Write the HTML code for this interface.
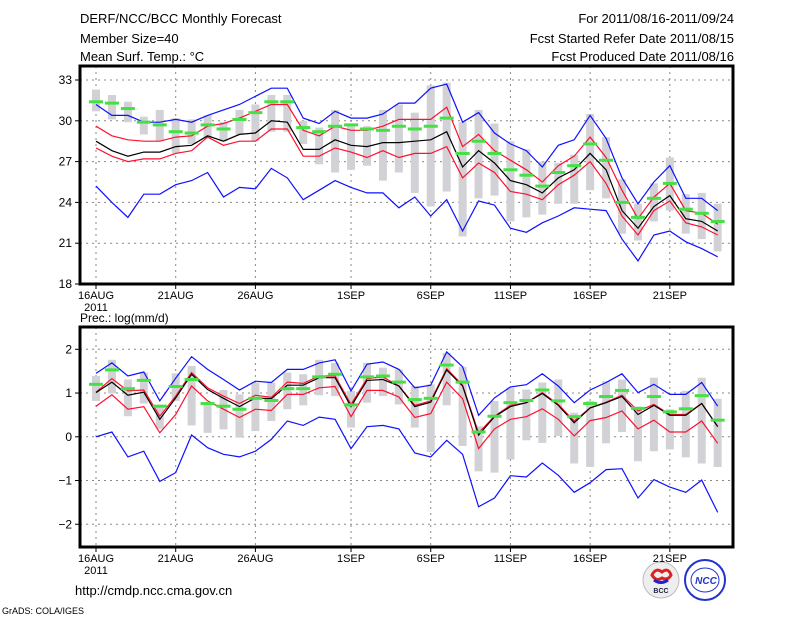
<!DOCTYPE html>
<html><head><meta charset="utf-8"><style>
html,body{margin:0;padding:0;background:#fff;}
svg{display:block;font-family:"Liberation Sans",sans-serif;}
</style></head><body>
<svg id="chart" width="800" height="618" viewBox="0 0 800 618" xmlns="http://www.w3.org/2000/svg">
<text x="80" y="23" font-size="13">DERF/NCC/BCC Monthly Forecast</text>
<text x="80" y="43" font-size="13">Member Size=40</text>
<text x="80" y="61" font-size="13">Mean Surf. Temp.: °C</text>
<text x="734" y="23" font-size="13" text-anchor="end">For 2011/08/16-2011/09/24</text>
<text x="734" y="43" font-size="13" text-anchor="end">Fcst Started Refer Date 2011/08/15</text>
<text x="734" y="61" font-size="13" text-anchor="end">Fcst Produced Date 2011/08/16</text>
<text x="80" y="322" font-size="12">Prec.: log(mm/d)</text>
<text x="75" y="595" font-size="13">http://cmdp.ncc.cma.gov.cn</text>
<text x="2" y="614" font-size="9">GrADS: COLA/IGES</text>
<g>
<circle cx="661" cy="580" r="18" fill="#eee" stroke="#bbb"/>
<path d="M652 575 q4 -8 10 -3 q6 -5 9 3 q-3 6 -9 3 q-6 4 -10 -3z" fill="none" stroke="#d22" stroke-width="3"/>
<path d="M654 580 q7 5 14 0" fill="none" stroke="#22c" stroke-width="3"/>
<text x="661" y="593" font-size="7" font-weight="bold" fill="#224" text-anchor="middle">BCC</text>
</g>
<g>
<circle cx="705" cy="580" r="20" fill="#fff" stroke="#23c" stroke-width="2"/>
<ellipse cx="705" cy="580" rx="14" ry="12" fill="none" stroke="#23c"/>
<text x="706" y="584" font-size="10" font-style="italic" font-weight="bold" fill="#23c" text-anchor="middle">NCC</text>
</g>
<g id="top"></g>
<g id="bot"></g>
</svg>
<script>
const dayLabels=["16AUG","21AUG","26AUG","1SEP","6SEP","11SEP","16SEP","21SEP"];
const dayLabelIdx=[0,5,10,16,21,26,31,36];
const tTicks=[18,21,24,27,30,33];
const pTicks=[-2,-1,0,1,2];
const tMax=[31.2,30.4,30.4,29.9,29.9,30.1,29.9,30.4,30.8,31.2,31.8,32.4,32.4,30.2,29.8,30.7,30.2,30.2,30.5,31.3,31.3,32.4,32.7,29.9,30.6,29.1,28.3,27.8,26.6,28.2,28.6,30.4,28.7,25.8,23.9,25.5,26.7,24.3,24.3,23.4];
const tUp=[29.6,28.9,28.6,28.5,28.5,28.8,28.9,29.6,29.8,30.2,30.7,31.2,31.2,29.3,28.9,29.6,29.3,29.3,29.6,30.1,30.1,30.1,31.0,28.1,29.0,27.8,27.1,26.4,25.5,26.7,27.4,28.8,27.3,24.9,22.8,24.4,25.4,23.4,23.2,22.4];
const tMean=[28.5,27.8,27.4,27.7,27.7,28.1,28.2,28.9,28.5,29.0,29.1,30.0,29.9,27.9,27.9,28.6,28.2,28.1,28.4,28.4,28.5,28.6,29.2,26.6,27.8,26.9,25.6,25.3,24.7,25.8,26.4,27.6,26.4,23.4,22.1,23.7,24.5,22.8,22.6,21.9];
const tLo=[28.0,27.4,27.0,27.2,27.2,27.6,27.8,28.8,28.2,28.5,28.5,29.4,29.4,27.4,27.4,28.0,27.7,27.3,27.8,27.3,27.6,27.6,28.1,25.8,26.9,26.2,24.8,24.6,24.2,25.3,26.0,27.0,25.4,23.0,21.6,23.4,24.1,22.5,22.2,21.6];
const tMin=[25.2,24.0,22.9,24.6,24.6,25.3,25.6,26.2,24.4,25.1,25.0,26.5,25.8,24.2,24.9,25.6,25.1,24.7,24.7,23.6,24.4,23.0,24.2,21.9,24.1,23.8,22.1,21.8,22.5,23.0,23.6,23.5,23.4,21.3,19.7,21.6,21.9,21.1,20.6,20.0];
const tObs=[31.4,31.3,30.9,29.9,29.7,29.2,29.1,29.7,29.4,30.1,30.6,31.4,31.4,29.5,29.2,29.6,29.7,29.4,29.3,29.6,29.4,29.6,30.2,27.6,28.5,27.6,26.4,26.0,25.2,26.2,26.7,28.3,27.1,24.0,22.9,24.3,25.4,23.5,23.2,22.6];
const tBarHi=[32.3,31.9,31.4,30.3,30.8,30.2,30.1,30.4,29.9,30.8,31.2,31.9,31.9,30.0,29.5,30.8,29.8,29.6,30.8,31.2,30.6,32.6,32.8,29.9,30.8,29.8,28.5,27.9,27.0,26.9,27.5,30.5,28.8,25.7,23.9,25.4,27.3,24.6,24.7,23.9];
const tBarLo=[30.7,30.1,29.9,29.0,28.5,27.6,28.3,28.7,28.5,29.0,28.5,29.2,29.2,28.3,26.8,26.2,26.4,26.7,25.6,26.2,24.7,23.7,24.8,21.5,24.3,24.5,22.6,22.9,23.1,23.9,23.9,24.9,24.3,21.7,21.2,22.6,23.4,21.7,21.3,20.4];
const pMax=[1.45,1.69,1.39,1.48,0.82,1.34,1.83,1.54,1.31,1.07,1.27,1.24,1.54,1.54,1.69,1.76,1.05,1.66,1.71,1.54,1.12,1.18,1.94,1.60,0.49,0.89,1.14,1.19,1.44,1.16,0.78,1.07,1.24,1.44,1.01,1.20,0.97,0.97,1.24,0.70];
const pUp=[1.02,1.33,1.05,1.07,0.47,0.93,1.47,1.12,0.93,0.76,0.95,0.90,1.25,1.22,1.39,1.39,0.74,1.33,1.37,1.16,0.72,0.82,1.56,1.18,0.09,0.47,0.72,0.78,1.01,0.74,0.36,0.66,0.79,0.95,0.59,0.74,0.51,0.51,0.76,0.24];
const pMean=[1.01,1.25,0.95,1.02,0.40,0.89,1.43,1.08,0.88,0.69,0.89,0.87,1.18,1.18,1.35,1.35,0.69,1.29,1.31,1.16,0.69,0.79,1.53,1.16,0.04,0.46,0.69,0.78,0.99,0.72,0.32,0.66,0.78,0.92,0.51,0.72,0.49,0.49,0.76,0.23];
const pLo=[0.70,0.96,0.63,0.69,0.09,0.51,1.16,0.82,0.63,0.44,0.63,0.60,0.97,0.97,1.12,1.15,0.46,1.06,1.06,0.91,0.44,0.53,1.25,0.87,-0.27,0.18,0.40,0.46,0.64,0.40,0.02,0.37,0.44,0.59,0.18,0.38,0.11,0.11,0.36,-0.15];
const pMin=[0.00,0.11,-0.46,-0.33,-1.02,-0.82,0.04,-0.25,-0.40,-0.46,-0.33,-0.06,0.36,0.26,0.45,0.40,-0.27,0.23,0.26,0.18,-0.37,-0.46,-0.08,-0.40,-1.60,-1.40,-0.89,-0.92,-0.60,-0.88,-1.27,-1.05,-0.75,-0.73,-1.40,-0.98,-1.15,-1.27,-0.99,-1.73];
const pObs=[1.20,1.53,1.10,1.29,0.70,1.15,1.31,0.76,0.70,0.63,0.88,0.83,1.10,1.10,1.37,1.43,0.73,1.37,1.39,1.25,0.85,0.88,1.64,1.25,0.11,0.47,0.78,0.83,1.07,0.82,0.46,0.76,0.92,1.06,0.65,0.92,0.57,0.64,0.94,0.38];
const pBarHi=[1.39,1.76,1.31,1.47,0.69,1.45,1.62,0.79,1.07,0.97,1.24,1.24,1.47,1.43,1.76,1.69,1.05,1.69,1.58,1.54,1.16,1.20,1.92,1.60,0.24,0.82,1.12,1.08,1.24,1.31,0.55,0.82,1.27,1.31,0.69,1.35,0.63,1.05,1.35,0.87];
const pBarLo=[0.82,0.99,0.47,0.76,0.18,0.82,0.26,0.09,0.17,-0.02,0.13,0.36,0.63,0.72,0.95,0.93,0.21,0.78,0.93,0.74,0.21,-0.35,0.72,-0.21,-0.79,-0.82,-0.52,-0.08,-0.14,0.02,-0.61,-0.69,-0.15,0.11,-0.56,-0.33,-0.29,-0.47,-0.61,-0.69];

const NS="http://www.w3.org/2000/svg";
const X0=96, DX=15.94, L=80, R=733;
function xs(i){return X0+i*DX;}
function mk(p,tag,attrs){const e=document.createElementNS(NS,tag);for(const k in attrs)e.setAttribute(k,attrs[k]);p.appendChild(e);return e;}

function panel(g,top,bot,vmin,vmax,ticks,series,bHi,bLo,obs,tickFmt){
  const ys=v=>bot-(v-vmin)/(vmax-vmin)*(bot-top);
  ticks.forEach(t=>{const y=ys(t);
    const gl=mk(g,'line',{x1:L,x2:R,y1:y,y2:y,stroke:'#888','stroke-dasharray':'2,4'});
    
    
    const tl=mk(g,'line',{x1:L-5,x2:L,y1:y,y2:y,stroke:'#000'});
    
    
    const tx=mk(g,'text',{x:L-8,y:y+4,'font-size':12,'text-anchor':'end'});
    tx.textContent=tickFmt(t);
    
    
  });
  dayLabelIdx.forEach((d,k)=>{const x=xs(d);
    const gl=mk(g,'line',{x1:x,x2:x,y1:top,y2:bot,stroke:'#888','stroke-dasharray':'2,4'});
    
    
    const tl=mk(g,'line',{x1:x,x2:x,y1:bot,y2:bot+5,stroke:'#000'});
    
    
    const tx=mk(g,'text',{x:x,y:bot+15,'font-size':11,'text-anchor':'middle'});
    tx.textContent=dayLabels[k];
    
    
  });
  const yr=mk(g,'text',{x:xs(0),y:bot+27,'font-size':11,'text-anchor':'middle'});
  yr.textContent='2011';
  
  
  bHi.forEach((h,i)=>{const y1=ys(h),y2=ys(bLo[i]);
    const r=mk(g,'rect',{x:xs(i)-4,y:y1,width:8,height:y2-y1,fill:'#d2d2d6'});
    
    
  });
  series.forEach(s=>{
    const pts=s.d.map((v,i)=>xs(i).toFixed(1)+','+ys(v).toFixed(1)).join(' ');
    const pl=mk(g,'polyline',{points:pts,fill:'none',stroke:s.c,'stroke-width':1.2});
    
    
  });
  obs.forEach((v,i)=>{const y=ys(v);
    const r=mk(g,'rect',{x:xs(i)-7,y:y-1.5,width:14,height:3,fill:'#44e044'});
    
    
  });
  const fr=mk(g,'rect',{x:L,y:top,width:R-L,height:bot-top,fill:'none',stroke:'#000','stroke-width':3});
  
  
}
panel(document.getElementById('top'),66,284,18,34.03,tTicks,
 [{d:tMax,c:'#1010ff',n:'max-line'},{d:tMin,c:'#1010ff',n:'min-line'},{d:tUp,c:'#ff1030',n:'upper-line'},{d:tLo,c:'#ff1030',n:'lower-line'},{d:tMean,c:'#000',n:'mean-line'}],
 tBarHi,tBarLo,tObs,t=>String(t));
panel(document.getElementById('bot'),327,547,-2.52,2.51,pTicks,
 [{d:pMax,c:'#1010ff',n:'max-line'},{d:pMin,c:'#1010ff',n:'min-line'},{d:pUp,c:'#ff1030',n:'upper-line'},{d:pLo,c:'#ff1030',n:'lower-line'},{d:pMean,c:'#000',n:'mean-line'}],
 pBarHi,pBarLo,pObs,t=>t<0?'\u2212'+(-t):String(t));
</script>
</body></html>
